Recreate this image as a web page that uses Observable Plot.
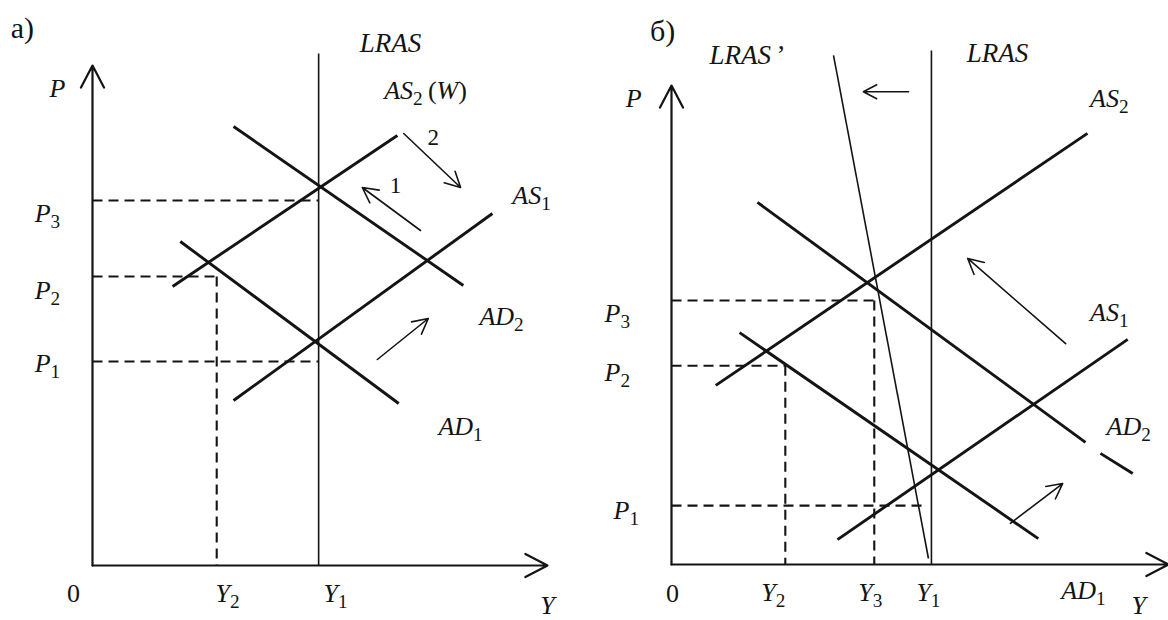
<!DOCTYPE html>
<html><head><meta charset="utf-8">
<script src="https://cdn.jsdelivr.net/npm/d3@7"></script>
<script src="https://cdn.jsdelivr.net/npm/@observablehq/plot@0.6"></script>
<style>
html,body{margin:0;padding:0;background:#fff;}
#wrap{display:flex;width:1168px;height:620px;overflow:hidden;}
</style></head><body><div id="wrap"></div>
<script>
// ---------- Panel а) : values in relative units (Y: 0..100, P: 0..100) ----------
const aAxes = [
  {x1: 0, y1: 0, x2: 100, y2: 0},
  {x1: 0, y1: 0, x2: 0, y2: 100}
];
const aCurves = [
  {name: "AS2", x1: 17.6, y1: 55.8, x2: 67.0, y2: 86.0},
  {name: "AD2", x1: 31.0, y1: 87.8, x2: 81.5, y2: 56.0},
  {name: "AS1", x1: 31.0, y1: 33.0, x2: 87.9, y2: 70.4},
  {name: "AD1", x1: 19.3, y1: 64.8, x2: 67.3, y2: 32.4}
];
const aThin = [
  {name: "LRAS", x1: 49.7, y1: 0, x2: 49.7, y2: 102.4}
];
const aDashes = [
  {x1: 0, y1: 73.0, x2: 49.7, y2: 73.0},
  {x1: 0, y1: 57.8, x2: 27.3, y2: 57.8},
  {x1: 27.3, y1: 57.8, x2: 27.3, y2: 0},
  {x1: 0, y1: 40.8, x2: 49.7, y2: 40.8}
];
const aArrows = [
  {x1: 68.4, y1: 86.4, x2: 80.9, y2: 75.6},
  {x1: 72.1, y1: 67.0, x2: 59.3, y2: 75.6},
  {x1: 62.6, y1: 41.2, x2: 73.8, y2: 49.4}
];
const aLabels = [
  {t: "а)", x: -15.4, y: 107.4, size: 30},
  {t: "P", x: -7.7, y: 95.4, size: 26},
  {t: "LRAS", x: 65.5, y: 104.4, size: 27},
  {t: "AS_2\u2009(W)", x: 73.2, y: 95.0, size: 26},
  {t: "2", x: 74.9, y: 85.6, size: 23},
  {t: "1", x: 66.6, y: 76.0, size: 23},
  {t: "AS_1", x: 96.5, y: 74.0, size: 26},
  {t: "AD_2", x: 89.9, y: 49.8, size: 26},
  {t: "AD_1", x: 80.9, y: 27.8, size: 26},
  {t: "P_3", x: -9.9, y: 70.4, size: 26},
  {t: "P_2", x: -9.9, y: 55.0, size: 26},
  {t: "P_1", x: -9.9, y: 40.4, size: 26},
  {t: "0", x: -4.2, y: -5.6, size: 26},
  {t: "Y_2", x: 29.7, y: -5.6, size: 26},
  {t: "Y_1", x: 53.4, y: -5.6, size: 26},
  {t: "Y", x: 100, y: -8.0, size: 26}
];

// ---------- Panel б) ----------
const bAxes = [
  {x1: 0, y1: 0, x2: 100, y2: 0},
  {x1: 0, y1: 0, x2: 0, y2: 100}
];
const bCurves = [
  {name: "AS2", x1: 8.9, y1: 37.4, x2: 83.7, y2: 90.0},
  {name: "AD2", x1: 17.3, y1: 75.6, x2: 83.3, y2: 25.5},
  {name: "AD2b", x1: 86.3, y1: 23.2, x2: 92.8, y2: 19.0},
  {name: "AS1", x1: 33.4, y1: 5.2, x2: 91.8, y2: 47.0},
  {name: "AD1", x1: 13.7, y1: 48.4, x2: 73.8, y2: 5.4}
];
const bThin = [
  {name: "LRAS", x1: 52.3, y1: 0, x2: 52.3, y2: 107.3},
  {name: "LRAS'", x1: 32.6, y1: 106.3, x2: 51.7, y2: 1.25}
];
const bDashes = [
  {x1: 0, y1: 55.1, x2: 40.8, y2: 55.1},
  {x1: 40.8, y1: 55.1, x2: 40.8, y2: 0},
  {x1: 0, y1: 41.5, x2: 22.9, y2: 41.5},
  {x1: 22.9, y1: 41.5, x2: 22.9, y2: 0},
  {x1: 0, y1: 12.3, x2: 51.5, y2: 12.3}
];
const bArrows = [
  {x1: 47.7, y1: 98.7, x2: 38.6, y2: 98.7},
  {x1: 79.3, y1: 46.1, x2: 59.6, y2: 63.9},
  {x1: 68.2, y1: 8.6, x2: 78.7, y2: 16.9}
];
const bLabels = [
  {t: "б)", x: -1.8, y: 111.3, size: 30},
  {t: "P", x: -7.6, y: 97.3, size: 26},
  {t: "LRAS\u2009\u2019", x: 15.3, y: 106.3, size: 27},
  {t: "LRAS", x: 65.6, y: 106.7, size: 27},
  {t: "AS_2", x: 88.1, y: 97.3, size: 26},
  {t: "AS_1", x: 88.1, y: 52.6, size: 26},
  {t: "AD_2", x: 92.0, y: 28.8, size: 26},
  {t: "P_3", x: -10.9, y: 52.4, size: 26},
  {t: "P_2", x: -10.9, y: 40.1, size: 26},
  {t: "P_1", x: -9.1, y: 11.3, size: 26},
  {t: "0", x: 0.2, y: -6.0, size: 26},
  {t: "Y_2", x: 20.5, y: -5.8, size: 26},
  {t: "Y_3", x: 40.0, y: -5.8, size: 26},
  {t: "Y_1", x: 51.7, y: -5.8, size: 26},
  {t: "AD_1", x: 82.9, y: -5.4, size: 26},
  {t: "Y", x: 94.0, y: -8.6, size: 26}
];

const INK = "#141414";
const FONT = "'Liberation Serif', 'DejaVu Serif', serif";
const UPRIGHT = new Set(["а)", "б)", "0", "1", "2"]);

function seg(data, opts) {
  return Plot.link(data, {x1: "x1", y1: "y1", x2: "x2", y2: "y2", stroke: INK, ...opts});
}

function makePanel(m, axes, curves, thin, dashes, arrows, labels) {
  const sizes = [...new Set(labels.map(d => d.size))];
  const svg = Plot.plot({
    width: 584, height: 620,
    marginLeft: m.l, marginRight: m.r, marginTop: m.t, marginBottom: m.b,
    x: {domain: [0, 100], axis: null},
    y: {domain: [0, 100], axis: null},
    style: {background: "#fff", overflow: "visible"},
    marks: [
      seg(dashes, {strokeWidth: 2.1, strokeDasharray: "10,6"}),
      seg(thin, {strokeWidth: 1.6}),
      seg(curves, {strokeWidth: 2.9}),
      Plot.arrow(axes, {x1: "x1", y1: "y1", x2: "x2", y2: "y2", stroke: INK, strokeWidth: 2.2, headLength: 17, headAngle: 55}),
      Plot.arrow(arrows, {x1: "x1", y1: "y1", x2: "x2", y2: "y2", stroke: INK, strokeWidth: 1.6, headLength: 16, headAngle: 55}),
      ...sizes.map(s => Plot.text(labels.filter(d => d.size === s), {
        x: "x", y: "y", text: "t", fontSize: s, fontFamily: FONT, fill: INK, textAnchor: "middle", lineAnchor: "middle"
      }))
    ]
  });
  // rich text: italic letters, upright digits/parentheses, subscripts after "_"
  svg.querySelectorAll('g[aria-label="text"] text').forEach(t => {
    const s = t.textContent;
    if (UPRIGHT.has(s)) { t.setAttribute("font-style", "normal"); return; }
    t.textContent = "";
    let sub = false, prevSub = false;
    for (const ch of s) {
      if (ch === "_") { sub = true; continue; }
      const ts = document.createElementNS("http://www.w3.org/2000/svg", "tspan");
      ts.textContent = ch;
      ts.setAttribute("font-style", /[A-Za-z]/.test(ch) ? "italic" : "normal");
      if (sub) { ts.setAttribute("font-size", "74%"); ts.setAttribute("dy", "6"); prevSub = true; sub = false; }
      else if (prevSub) { ts.setAttribute("dy", "-6"); prevSub = false; }
      t.appendChild(ts);
    }
  });
  return svg;
}

const wrap = document.getElementById("wrap");
wrap.appendChild(makePanel({l: 92, r: 37, t: 65, b: 55}, aAxes, aCurves, aThin, aDashes, aArrows, aLabels));
wrap.appendChild(makePanel({l: 87, r: 0, t: 85, b: 56}, bAxes, bCurves, bThin, bDashes, bArrows, bLabels));
</script></body></html>
